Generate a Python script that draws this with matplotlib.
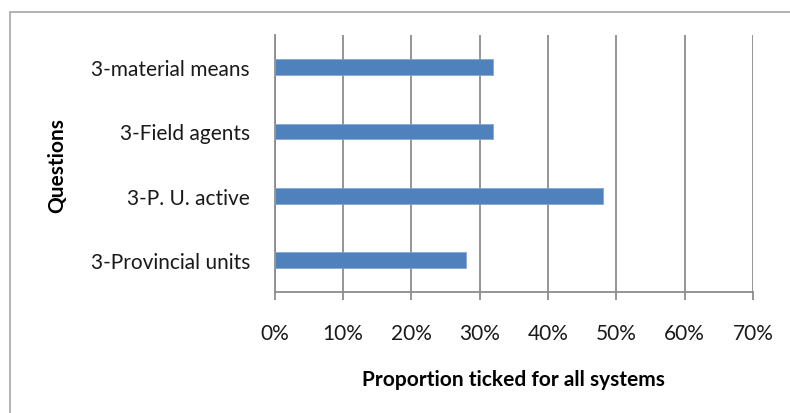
import matplotlib.pyplot as plt
import matplotlib.patches as patches
from matplotlib.ticker import FuncFormatter, MultipleLocator

# data (bottom to top)
questions = ["3-Provincial units", "3-P. U. active", "3-Field agents", "3-material means"]
proportions = [0.28, 0.48, 0.32, 0.32]

plt.rcParams['font.family'] = ['Lato', 'DejaVu Sans']
FS = 15

fig = plt.figure(figsize=(7.9, 4.14), dpi=100)
ax = fig.add_axes([0.348, 0.292, 0.605, 0.621])

# outer chart frame, like the Excel chart area
frame = patches.Rectangle((10 / 790, -0.02), 1.0, 0.9686 + 0.02,
                          transform=fig.transFigure, fill=False,
                          edgecolor="#a6a6a6", linewidth=1.2)
fig.patches.append(frame)

ax.barh(range(len(questions)), proportions, height=0.245,
        color="#4f81bd", edgecolor="#7fa3d0", linewidth=0.5, zorder=3)

ax.set_xlim(0, 0.7)
ax.set_ylim(-0.5, len(questions) - 0.5)
ax.xaxis.set_major_locator(MultipleLocator(0.1))
ax.xaxis.set_major_formatter(FuncFormatter(lambda v, p: f"{round(v * 100)}%"))
ax.set_yticks(range(len(questions)))
ax.set_yticklabels(questions)

ax.grid(axis="x", color="#8c8c8c", linewidth=1.3, zorder=0)
for side in ["top", "right"]:
    ax.spines[side].set_visible(False)
for side in ["left", "bottom"]:
    ax.spines[side].set_color("#8c8c8c")
    ax.spines[side].set_linewidth(1.3)

ax.tick_params(axis="x", length=6, width=1.3, color="#8c8c8c", pad=16,
               labelsize=FS, labelcolor="#1a1a1a")
ax.tick_params(axis="y", length=0, pad=18, labelsize=FS, labelcolor="#1a1a1a")

ax.set_xlabel("Proportion ticked for all systems", fontsize=FS,
              fontweight="bold", labelpad=19)
fig.text(57 / 790, 1 - 166 / 414, "Questions", rotation=90, fontsize=FS,
         fontweight="bold", ha="center", va="center")

fig.savefig("out.png", dpi=100)
